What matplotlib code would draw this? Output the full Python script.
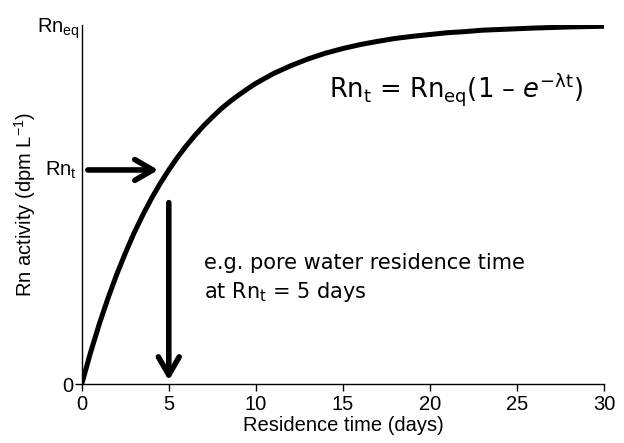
import matplotlib
matplotlib.use("Agg")
import matplotlib.pyplot as plt

# Rn ingrowth curve (fraction of Rn_eq)
days = [0, 0.5, 1, 1.5, 2, 2.5, 3, 3.5, 4, 4.5, 5, 5.5, 6, 6.5, 7, 7.5, 8, 8.5,
        9, 9.5, 10, 11, 12, 13, 14, 15, 16, 17, 18, 19, 20, 21, 22, 23, 24, 25,
        26, 27, 28, 29, 30]
rn_frac = [0.0, 0.087, 0.166, 0.238, 0.304, 0.364, 0.420, 0.470, 0.516, 0.558,
           0.596, 0.631, 0.663, 0.692, 0.719, 0.743, 0.766, 0.786, 0.804, 0.821,
           0.837, 0.864, 0.886, 0.905, 0.921, 0.934, 0.945, 0.954, 0.962, 0.968,
           0.973, 0.978, 0.981, 0.985, 0.987, 0.989, 0.991, 0.9925, 0.994, 0.995,
           0.996]

x_ticks = [0, 5, 10, 15, 20, 25, 30]
y_top_label = "Rn$_{\\mathregular{eq}}$"

t_example = 5
rn_example = 0.596

plt.rcParams["font.family"] = ["Liberation Sans", "DejaVu Sans"]
plt.rcParams["mathtext.default"] = "regular"

fig = plt.figure(figsize=(6.24, 4.43), dpi=100)
ax = fig.add_axes([0.131, 0.133, 0.837, 0.811])

ax.plot(days, rn_frac, color="black", lw=3.6, solid_capstyle="butt")

ax.set_xlim(0, 30)
ax.set_ylim(0, 1)
ax.set_xticks(x_ticks)
# Rn_eq at the top without a tick mark, 0 at the bottom with one
ax.set_yticks([1])
ax.set_yticklabels([y_top_label])
ax.set_yticks([0], minor=True)
ax.set_yticklabels(["0"], minor=True)
ax.tick_params(axis="both", labelsize=14.5, length=5, width=1, pad=3)
ax.tick_params(axis="y", which="major", length=0, pad=1)
ax.tick_params(axis="y", which="minor", labelsize=14.5, length=5, width=1, pad=1)
for side in ["top", "right"]:
    ax.spines[side].set_visible(False)
ax.spines["left"].set_linewidth(1)
ax.spines["bottom"].set_linewidth(1)

ax.set_xlabel("Residence time (days)", fontsize=14.5, labelpad=1)
ax.set_ylabel("Rn activity (dpm L$^{-1}$)", fontsize=14.5)
ax.yaxis.set_label_coords(-0.084, 0.5)

# Rn_t label on the y axis
ax.text(-0.01, rn_example, "Rn$_t$", transform=ax.get_yaxis_transform(),
        ha="right", va="center", fontsize=14.5)

# arrows
arrow = dict(arrowstyle="->,head_length=1.3,head_width=0.75", lw=4,
             color="black", shrinkA=0, shrinkB=0)
ax.annotate("", xy=(4.4, rn_example), xytext=(0.35, rn_example),
            arrowprops=arrow)
ax.annotate("", xy=(t_example, 0.01), xytext=(t_example, 0.505),
            arrowprops=arrow)

# equation and note
ax.text(14.2, 0.797, "Rn$_t$ = Rn$_{eq}$(1 \u2013 $\\mathit{e}^{-\\lambda t}$)",
        fontsize=18.5, family="DejaVu Sans", ha="left", va="baseline")
ax.text(7.0, 0.24, "e.g. pore water residence time\nat Rn$_t$ = 5 days",
        fontsize=15, family="DejaVu Sans", ha="left", va="baseline",
        linespacing=1.4)

fig.savefig("out.png", dpi=100)
